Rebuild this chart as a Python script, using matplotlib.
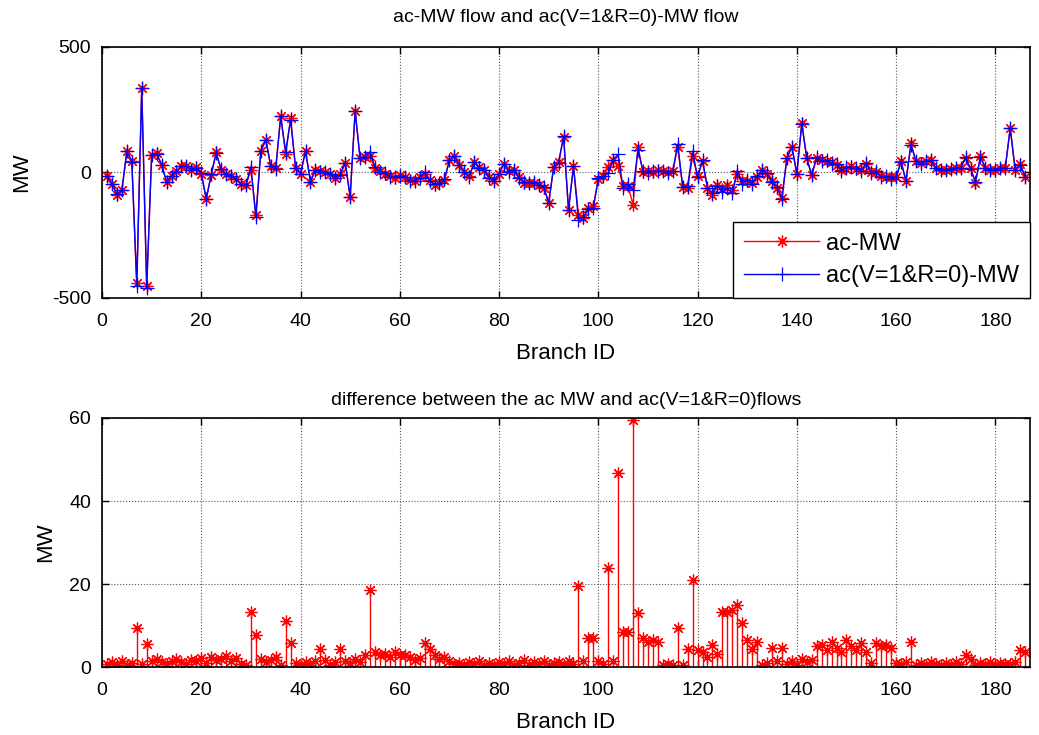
import numpy as np
import matplotlib
matplotlib.use("Agg")
import matplotlib.pyplot as plt

plt.rcParams['font.family'] = ['Liberation Sans', 'DejaVu Sans']
plt.rcParams['axes.unicode_minus'] = False

# ---- data ----
ac_mw = [
    -15, -44, -88, -70, 84, 44, -441, 336, -454, 70,
    77, 30, -36, -15, 5, 25, 25, 10, 20, -5,
    -105, -10, 80, 10, -5, -15, -25, -45, -50, 10,
    -170, 84, 131, 24, 17, 223, 72, 216, 17, -5,
    84, -36, 10, 5, 0, -5, -23, -5, 37, -96,
    243, 57, 60, 64, 17, 5, -5, -15, -23, -10,
    -20, -30, -35, -20, -5, -30, -50, -40, -30, 50,
    65, 30, 0, -15, 40, 20, 10, -20, -35, -5,
    35, 5, 10, -20, -40, -40, -40, -48, -60, -120,
    20, 40, 143, -148, 24, -168, -180, -140, -135, -25,
    -15, 20, 50, 25, -55, -55, -128, 103, 0, 5,
    0, 10, 5, 0, 5, 103, -56, -60, 64, -15,
    45, -60, -88, -50, -65, -50, -70, -8, -35, -35,
    -40, -20, 10, -5, -35, -60, -100, 57, 103, -5,
    196, 57, -10, 57, 50, 45, 40, 30, 10, 15,
    25, 15, 10, 35, 0, 0, -15, -20, -20, -20,
    44, -35, 117, 44, 36, 44, 50, 17, 10, 10,
    15, 17, 17, 57, 17, -40, 64, 17, 10, 10,
    17, 17, 177, 10, 35, -20,
]

ac_v1r0_mw = [
    -14.2, -45.2, -87.5, -71.5, 84.6, 43.0, -450.4, 336.8, -459.5, 71.5,
    75.0, 31.2, -36.8, -13.5, 3.0, 26.3, 24.2, 11.8, 18.5, -2.8,
    -106.0, -7.5, 78.2, 12.0, -7.6, -13.5, -27.2, -44.2, -50.5, 23.3,
    -177.7, 86.0, 129.8, 25.7, 14.7, 223.6, 83.0, 210.3, 18.0, -5.4,
    85.2, -36.6, 11.5, 0.7, 1.8, -5.5, -21.8, -9.3, 38.5, -97.0,
    245.0, 55.8, 63.0, 82.5, 20.5, 2.0, -1.8, -17.5, -19.5, -13.0,
    -17.2, -32.5, -33.2, -22.2, 0.7, -34.3, -47.0, -42.0, -27.5, 48.5,
    65.8, 29.0, 0.5, -16.2, 40.8, 18.5, 10.6, -21.0, -34.5, -6.3,
    35.7, 3.5, 10.5, -21.0, -38.4, -40.6, -38.8, -48.8, -58.6, -120.5,
    21.0, 38.8, 143.6, -149.5, 24.8, -187.4, -178.5, -147.0, -142.0, -23.5,
    -15.8, -3.8, 51.5, 71.7, -63.5, -46.5, -68.5, 90.1, 7.0, -1.0,
    6.5, 4.0, 5.5, -0.8, 5.4, 112.4, -56.6, -55.7, 85.0, -19.0,
    48.7, -62.5, -82.7, -53.2, -78.3, -63.3, -83.7, 7.0, -45.5, -28.6,
    -44.3, -14.0, 9.5, -4.0, -39.5, -58.5, -104.5, 57.8, 101.5, -4.5,
    194.0, 58.2, -11.8, 62.0, 44.7, 49.0, 34.0, 34.5, 6.5, 21.4,
    20.0, 19.0, 4.3, 38.5, -1.0, 5.7, -20.0, -14.7, -24.5, -19.0,
    43.2, -33.8, 111.0, 44.5, 35.0, 44.6, 48.8, 17.8, 9.5, 11.0,
    14.4, 18.2, 16.2, 60.0, 15.0, -39.4, 63.0, 17.8, 8.8, 10.5,
    16.0, 17.7, 176.2, 11.2, 31.0, -16.3,
]

branch_id = np.arange(1, len(ac_mw) + 1)
mw_difference = np.abs(np.array(ac_mw) - np.array(ac_v1r0_mw))

x_ticks = [0, 20, 40, 60, 80, 100, 120, 140, 160, 180]
top_yticks = [-500, 0, 500]
bottom_yticks = [0, 20, 40, 60]

# ---- figure ----
fig = plt.figure(figsize=(10.39, 7.35), dpi=100)
ax1 = fig.add_axes([0.0982, 0.5946, 0.8932, 0.3415])
ax2 = fig.add_axes([0.0982, 0.0925, 0.8932, 0.3388])

star = (8, 2, 0)

ax1.plot(branch_id, ac_mw, color='red', lw=1.0, marker=star, ms=8.5,
         mew=0.9, label='ac-MW')
ax1.plot(branch_id, ac_v1r0_mw, color='blue', lw=1.0, marker='+', ms=10,
         mew=0.9, label='ac(V=1&R=0)-MW')
ax1.set_xlim(0, 187)
ax1.set_ylim(-500, 500)
ax1.set_xticks(x_ticks)
ax1.set_yticks(top_yticks)
ax1.set_title('ac-MW flow and ac(V=1&R=0)-MW flow', fontsize=14, pad=18)
ax1.set_xlabel('Branch ID', fontsize=16, labelpad=9)
ax1.set_ylabel('MW', fontsize=16, labelpad=14)
leg = ax1.legend(loc='lower right', fontsize=17, borderaxespad=0,
                 fancybox=False, edgecolor='black', framealpha=1,
                 handlelength=3.2, handletextpad=0.3, borderpad=0.45,
                 labelspacing=0.45)
leg.get_frame().set_linewidth(1.0)

markerline, stemlines, baseline = ax2.stem(branch_id, mw_difference,
                                           linefmt='r-', markerfmt='r*',
                                           basefmt=' ')
markerline.set_marker(star)
markerline.set_markersize(8.5)
markerline.set_markeredgewidth(0.9)
markerline.set_color('red')
stemlines.set_linewidth(1.0)
ax2.set_xlim(0, 187)
ax2.set_ylim(0, 60)
ax2.set_xticks(x_ticks)
ax2.set_yticks(bottom_yticks)
ax2.set_title('difference between the ac MW and ac(V=1&R=0)flows',
              fontsize=14, pad=9)
ax2.set_xlabel('Branch ID', fontsize=16, labelpad=9)
ax2.set_ylabel('MW', fontsize=16, labelpad=9)

for ax in (ax1, ax2):
    ax.grid(True, linestyle=':', color='0.35', lw=0.8)
    ax.tick_params(direction='in', top=True, right=True, labelsize=14,
                   length=5, width=1, pad=8)
    ax.tick_params(axis='x', pad=11)
    for s in ax.spines.values():
        s.set_linewidth(1.2)

fig.savefig('out.png', dpi=100)
